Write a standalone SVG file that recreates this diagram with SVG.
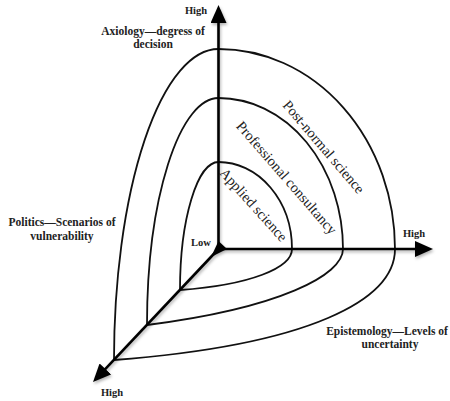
<svg xmlns="http://www.w3.org/2000/svg" width="450" height="401" viewBox="0 0 450 401">
  <style>
    .loop { fill: none; stroke: #111; stroke-width: 1.8; }
    .axis { fill: none; stroke: #000; stroke-width: 2.6; }
    .lbl { font-family: "Liberation Serif", "Times New Roman", serif; font-weight: bold; font-size: 11.5px; fill: #222; text-anchor: middle; }
    .hl { font-family: "Liberation Serif", "Times New Roman", serif; font-weight: bold; font-size: 10.5px; fill: #222; text-anchor: middle; }
    .zone { font-family: "Liberation Serif", "Times New Roman", serif; font-size: 14.5px; fill: #222; text-anchor: middle; }
  </style>
  <defs>
    <marker id="arrow" viewBox="0 0 18 16" refX="2" refY="8" markerWidth="18" markerHeight="16" orient="auto" markerUnits="userSpaceOnUse">
      <path d="M0,0 L18,8 L0,16 Z" fill="#000"/>
    </marker>
    <filter id="shadow" x="-20%" y="-20%" width="140%" height="140%">
      <feDropShadow dx="1" dy="2" stdDeviation="1.5" flood-color="#000" flood-opacity="0.3"/>
    </filter>
  </defs>
  <rect width="450" height="401" fill="#fff"/>

  <g id="post-normal-science">
    <path class="loop" d="M218.5,49 A176.5,200 0 0 1 395,249 C395,300 310,345 114,360 A104.5,311 0 0 1 218.5,49"/>
    <text class="zone" transform="translate(320,150) rotate(49.6)">Post-normal science</text>
  </g>
  <g id="professional-consultancy">
    <path class="loop" d="M218.5,98 A124.5,151 0 0 1 343,249 C343,275 280,308 147,325 A71.5,227 0 0 1 218.5,98"/>
    <text class="zone" transform="translate(283,181) rotate(49)">Professional consultancy</text>
  </g>
  <g id="applied-science">
    <path class="loop" d="M218.5,162 A73.5,87 0 0 1 292,249 C292,268 250,285 180,290 A38.5,128 0 0 1 218.5,162"/>
    <text class="zone" transform="translate(250,208) rotate(48)">Applied science</text>
  </g>

  <g id="connectors" filter="url(#shadow)">
    <path class="axis" d="M218.5,249 V21" marker-end="url(#arrow)"/>
    <path class="axis" d="M218.5,249 H417" marker-end="url(#arrow)"/>
    <path class="axis" d="M218.5,249 L104,370.4" marker-end="url(#arrow)"/>
    <polygon points="218.5,241 227,249 211,257" fill="#000"/>
  </g>

  <g id="axiology">
    <text class="hl" x="196" y="14">High</text>
    <text class="lbl" x="153" y="35">Axiology—degress of</text>
    <text class="lbl" x="153" y="48">decision</text>
  </g>
  <g id="politics">
    <text class="lbl" x="62" y="226">Politics—Scenarios of</text>
    <text class="lbl" x="62" y="239.5">vulnerability</text>
    <text class="hl" x="112" y="396">High</text>
  </g>
  <g id="origin">
    <text class="hl" x="201" y="246">Low</text>
  </g>
  <g id="epistemology">
    <text class="hl" x="414" y="237">High</text>
    <text class="lbl" x="387" y="335">Epistemology—Levels of</text>
    <text class="lbl" x="390" y="348">uncertainty</text>
  </g>
</svg>
